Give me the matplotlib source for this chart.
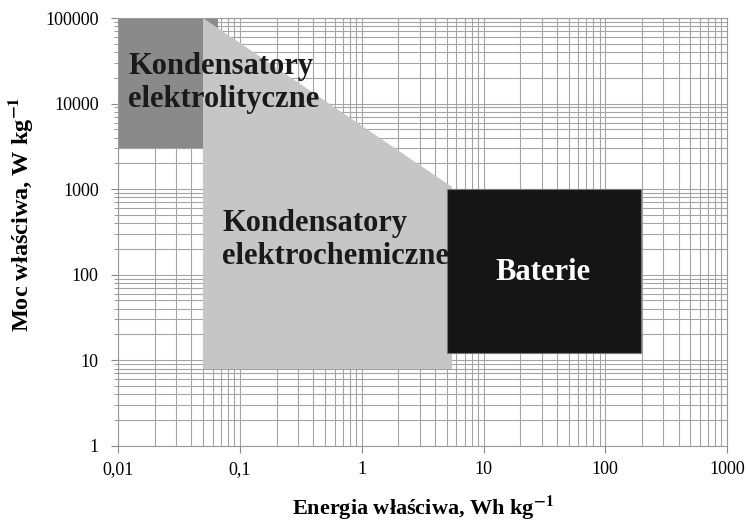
import matplotlib.pyplot as plt
from matplotlib.patches import Polygon, Rectangle
from matplotlib.ticker import FixedLocator, LogLocator, NullFormatter

plt.rcParams['font.family'] = ['Liberation Serif', 'DejaVu Serif']
plt.rcParams['mathtext.fontset'] = 'stix'

# region outlines (energy Wh/kg, power W/kg)
elektrolit_x = [0.01, 0.066]
elektrolit_y = [3000, 100000]
elektrochem_x = [0.05, 0.05, 5.5, 5.5, 0.05]
elektrochem_y = [100000, 8, 8, 1050, 100000]
baterie_x = [5.0, 195]
baterie_y = [12, 1000]

x_ticks = [0.01, 0.1, 1, 10, 100, 1000]
x_labels = ["0,01", "0,1", "1", "10", "100", "1000"]
y_ticks = [1, 10, 100, 1000, 10000, 100000]
y_labels = ["1", "10", "100", "1000", "10000", "100000"]

fig = plt.figure(figsize=(7.48, 5.22), dpi=100)
ax = fig.add_axes([0.158, 0.146, 0.814, 0.8195])
ax.set_xscale("log")
ax.set_yscale("log")
ax.set_xlim(0.01, 1000)
ax.set_ylim(1, 100000)

ax.grid(True, which="both", color="#a4a4a4", linewidth=0.8)
ax.set_axisbelow(True)

ax.add_patch(Rectangle((elektrolit_x[0], elektrolit_y[0]),
                       elektrolit_x[1] - elektrolit_x[0],
                       elektrolit_y[1] - elektrolit_y[0],
                       facecolor="#8a8a8a", edgecolor="none", zorder=2))
ax.add_patch(Polygon(list(zip(elektrochem_x, elektrochem_y)),
                     facecolor="#c6c6c6", edgecolor="none", zorder=3))
ax.add_patch(Rectangle((baterie_x[0], baterie_y[0]),
                       baterie_x[1] - baterie_x[0],
                       baterie_y[1] - baterie_y[0],
                       facecolor="#151515", edgecolor="#777777", linewidth=0.8, zorder=4))

ax.text(0.0121, 17400, "Kondensatory\nelektrolityczne", fontsize=22, fontweight="bold",
        color="#1a1a1a", ha="left", va="center", linespacing=1.2, zorder=5)
ax.text(0.0714, 255, "Kondensatory\nelektrochemiczne", fontsize=22, fontweight="bold",
        color="#1a1a1a", ha="left", va="center", linespacing=1.2, zorder=5)
ax.text(31, 105, "Baterie", fontsize=22, fontweight="bold",
        color="white", ha="center", va="center", zorder=5)

ax.xaxis.set_major_locator(FixedLocator(x_ticks))
ax.set_xticklabels(x_labels)
ax.yaxis.set_major_locator(FixedLocator(y_ticks))
ax.set_yticklabels(y_labels)
ax.yaxis.set_minor_locator(LogLocator(base=10, subs=range(2, 10)))
ax.xaxis.set_minor_locator(LogLocator(base=10, subs=range(2, 10)))
ax.yaxis.set_minor_formatter(NullFormatter())
ax.xaxis.set_minor_formatter(NullFormatter())
ax.tick_params(axis="both", which="major", labelsize=13, length=5, color="#888888")
ax.tick_params(axis="x", which="major", pad=6)
ax.tick_params(axis="y", which="major", pad=9)
ax.tick_params(axis="y", which="minor", length=3, color="#888888")
ax.tick_params(axis="x", which="minor", length=0)

for s in ax.spines.values():
    s.set_color("#999999")
    s.set_linewidth(0.8)

ax.set_xlabel("Energia właściwa, Wh kg$^{\\mathbf{-1}}$", fontsize=16, fontweight="bold")
ax.set_ylabel("Moc właściwa, W kg$^{\\mathbf{-1}}$", fontsize=17.5, fontweight="bold")
ax.xaxis.set_label_coords(0.5, -0.112)
ax.yaxis.set_label_coords(-0.136, 0.54)

fig.savefig("out.png", dpi=100)
